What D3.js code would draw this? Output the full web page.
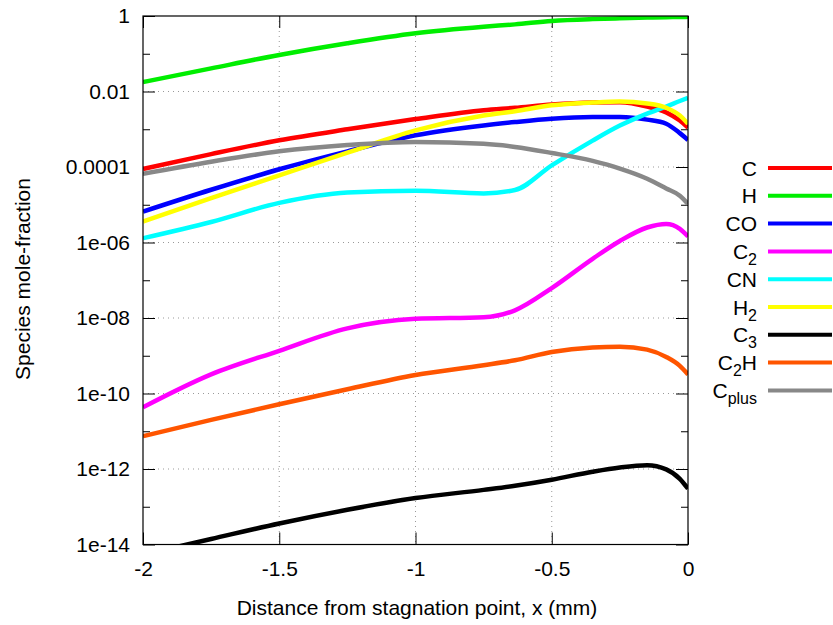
<!DOCTYPE html>
<html>
<head>
<meta charset="utf-8">
<title>Species mole-fraction</title>
<script src="https://cdn.jsdelivr.net/npm/d3@7"></script>
<style>
  body { margin: 0; background: #fff; }
  svg { font-family: "Liberation Sans", Arial, sans-serif; }
</style>
</head>
<body>
<script>
// distance from stagnation point (mm)
var xs = [-2, -1.75, -1.5, -1.25, -1.0, -0.75, -0.635, -0.5, -0.35, -0.25, -0.15, -0.08, -0.03, 0];

// mole fractions
var C     = [8.9e-5, 2.2e-4, 5.1e-4, 1.0e-3, 1.86e-3, 3.2e-3, 3.7e-3, 4.5e-3, 5.1e-3, 5.2e-3, 4.0e-3, 2.8e-3, 1.7e-3, 1.1e-3];
var H     = [0.0178, 0.041, 0.093, 0.19, 0.35, 0.52, 0.60, 0.74, 0.83, 0.87, 0.91, 0.93, 0.94, 0.95];
var CO    = [6.6e-6, 2.5e-5, 8.7e-5, 2.6e-4, 6.9e-4, 1.26e-3, 1.55e-3, 1.9e-3, 2.1e-3, 2.1e-3, 1.8e-3, 1.4e-3, 7.9e-4, 5.2e-4];
var C2    = [4.3e-11, 3.2e-10, 1.35e-9, 5.3e-9, 9.5e-9, 1.05e-8, 1.6e-8, 6.2e-8, 3.7e-7, 1.1e-6, 2.5e-6, 3.1e-6, 2.3e-6, 1.45e-6];
var CN    = [1.3e-6, 3.5e-6, 1.12e-5, 2.1e-5, 2.35e-5, 2.0e-5, 2.45e-5, 1.1e-4, 5.0e-4, 1.25e-3, 2.6e-3, 4.0e-3, 5.6e-3, 6.8e-3];
var H2    = [3.6e-6, 1.5e-5, 6.0e-5, 2.4e-4, 9.3e-4, 2.3e-3, 3.0e-3, 4.3e-3, 5.1e-3, 5.4e-3, 4.8e-3, 3.7e-3, 2.3e-3, 1.4e-3];
var C3    = [5.4e-15, 1.4e-14, 3.6e-14, 8.3e-14, 1.7e-13, 2.8e-13, 3.6e-13, 5.2e-13, 8.5e-13, 1.1e-12, 1.26e-12, 9.8e-13, 5.5e-13, 3.0e-13];
var C2H   = [7.4e-12, 2.0e-11, 5.2e-11, 1.3e-10, 3.1e-10, 5.6e-10, 7.6e-10, 1.26e-9, 1.66e-9, 1.74e-9, 1.45e-9, 9.3e-10, 5.4e-10, 3.2e-10];
var Cplus = [6.6e-5, 1.38e-4, 2.6e-4, 3.8e-4, 4.6e-4, 4.1e-4, 3.4e-4, 2.35e-4, 1.45e-4, 9.1e-5, 4.9e-5, 2.7e-5, 1.74e-5, 1.05e-5];

var names = ["C", "H", "CO", "C2", "CN", "H2", "C3", "C2H", "Cplus"];
var values = [C, H, CO, C2, CN, H2, C3, C2H, Cplus];
var colors = ["#ff0000", "#00ee00", "#0000ff", "#ff00ff", "#00ffff", "#ffff00", "#000000", "#ff5500", "#888888"];
// legend labels: [main, subscript, rest]
var legendLabels = [["C", "", ""], ["H", "", ""], ["CO", "", ""], ["C", "2", ""], ["CN", "", ""],
                    ["H", "2", ""], ["C", "3", ""], ["C", "2", "H"], ["C", "plus", ""]];

var xTicks = [-2, -1.5, -1, -0.5, 0];
var xTickLabels = ["-2", "-1.5", "-1", "-0.5", "0"];
var yTicks = [1, 1e-2, 1e-4, 1e-6, 1e-8, 1e-10, 1e-12, 1e-14];
var yTickLabels = ["1", "0.01", "0.0001", "1e-06", "1e-08", "1e-10", "1e-12", "1e-14"];
var yMinor = [1e-1, 1e-3, 1e-5, 1e-7, 1e-9, 1e-11, 1e-13];

var width = 833, height = 625;
var pLeft = 143, pRight = 688, pTop = 16, pBottom = 544.5;

var svg = d3.select("body").append("svg")
    .attr("width", width)
    .attr("height", height);

var x = d3.scaleLinear().domain([-2, 0]).range([pLeft, pRight]);
var y = d3.scaleLog().domain([1e-14, 1]).range([pBottom, pTop]);

// dotted grid at major ticks
var grid = svg.append("g").attr("stroke", "#999").attr("stroke-width", 1).attr("stroke-dasharray", "1,4");
grid.selectAll(".gx").data(xTicks.slice(1, -1)).enter().append("line")
    .attr("x1", d => x(d)).attr("x2", d => x(d))
    .attr("y1", pTop).attr("y2", pBottom);
grid.selectAll(".gy").data(yTicks.slice(1, -1)).enter().append("line")
    .attr("x1", pLeft).attr("x2", pRight)
    .attr("y1", d => y(d)).attr("y2", d => y(d));

// axes with inward ticks
function styleAxis(g) {
    g.select(".domain").remove();
    g.selectAll("line").attr("stroke", "#000");
    g.selectAll("text").attr("font-size", 21).attr("fill", "#000");
}
svg.append("g").attr("transform", "translate(0," + pBottom + ")")
    .call(d3.axisBottom(x).tickValues(xTicks).tickFormat((d, i) => xTickLabels[i]).tickSize(-12).tickPadding(17))
    .call(styleAxis);
svg.append("g").attr("transform", "translate(0," + pTop + ")")
    .call(d3.axisTop(x).tickValues(xTicks).tickFormat("").tickSize(-12))
    .call(styleAxis);
svg.append("g").attr("transform", "translate(" + pLeft + ",0)")
    .call(d3.axisLeft(y).tickValues(yTicks).tickFormat((d, i) => yTickLabels[i]).tickSize(-12).tickPadding(13))
    .call(styleAxis);
svg.append("g").attr("transform", "translate(" + pLeft + ",0)")
    .call(d3.axisLeft(y).tickValues(yMinor).tickFormat("").tickSize(-7))
    .call(styleAxis);
svg.append("g").attr("transform", "translate(" + pRight + ",0)")
    .call(d3.axisRight(y).tickValues(yTicks).tickFormat("").tickSize(-12))
    .call(styleAxis);
svg.append("g").attr("transform", "translate(" + pRight + ",0)")
    .call(d3.axisRight(y).tickValues(yMinor).tickFormat("").tickSize(-7))
    .call(styleAxis);

// curves
svg.append("clipPath").attr("id", "clip").append("rect")
    .attr("x", pLeft).attr("y", pTop).attr("width", pRight - pLeft).attr("height", pBottom - pTop);

var line = d3.line()
    .x((d, i) => x(xs[i]))
    .y(d => y(d))
    .curve(d3.curveMonotoneX);

svg.append("g").attr("clip-path", "url(#clip)")
    .selectAll("path").data(values).enter().append("path")
    .attr("d", d => line(d))
    .attr("fill", "none")
    .attr("stroke", (d, i) => colors[i])
    .attr("stroke-width", 4.5)
    .attr("stroke-linejoin", "round");

// frame
svg.append("rect").attr("x", pLeft).attr("y", pTop)
    .attr("width", pRight - pLeft).attr("height", pBottom - pTop)
    .attr("fill", "none").attr("stroke", "#000").attr("stroke-width", 1.2);

// legend
var legend = svg.selectAll(".legend").data(names).enter().append("g")
    .attr("transform", (d, i) => "translate(0," + (168 + i * 27.8) + ")");
legend.append("line")
    .attr("x1", 768).attr("x2", 832)
    .attr("stroke", (d, i) => colors[i]).attr("stroke-width", 4);
var lt = legend.append("text")
    .attr("x", 757).attr("y", 7.5)
    .attr("text-anchor", "end").attr("font-size", 21);
lt.each(function (d, i) {
    var t = d3.select(this), lab = legendLabels[i];
    t.append("tspan").text(lab[0]);
    if (lab[1]) t.append("tspan").attr("dy", 6).attr("font-size", 16).text(lab[1]);
    if (lab[2]) t.append("tspan").attr("dy", -6).text(lab[2]);
});

// axis titles
svg.append("text")
    .attr("x", 417).attr("y", 615)
    .attr("text-anchor", "middle").attr("font-size", 21)
    .text("Distance from stagnation point, x (mm)");
svg.append("text")
    .attr("transform", "translate(30,279) rotate(-90)")
    .attr("text-anchor", "middle").attr("font-size", 21)
    .text("Species mole-fraction");
</script>
</body>
</html>
